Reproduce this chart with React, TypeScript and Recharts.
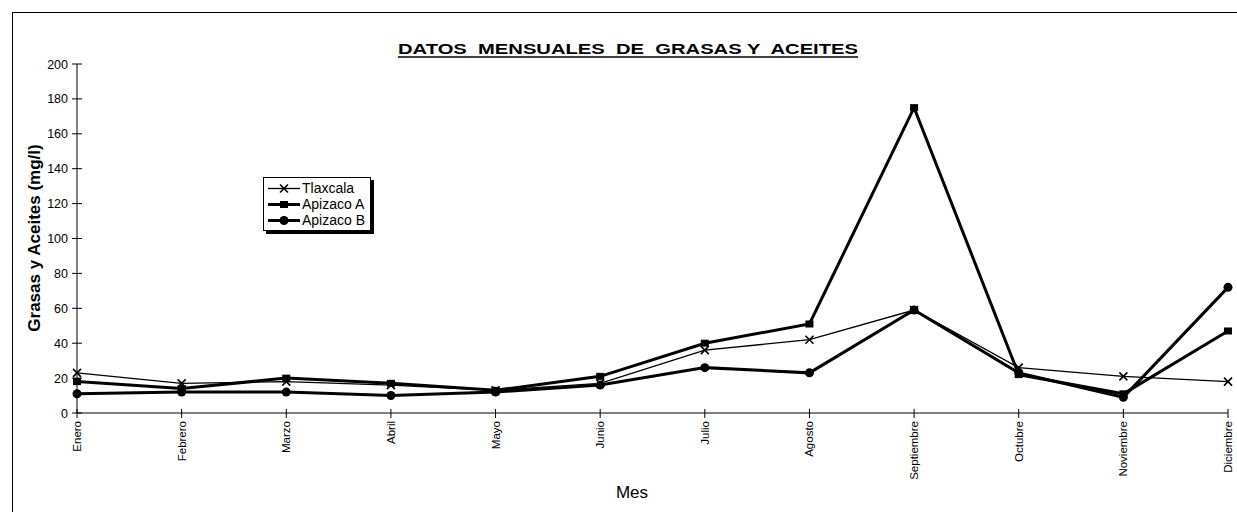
import React from 'react';
import { LineChart, Line, XAxis, YAxis, Legend } from 'recharts';

// Monthly fats & oils (mg/l) per site
const MONTHS = ['Enero', 'Febrero', 'Marzo', 'Abril', 'Mayo', 'Junio', 'Julio', 'Agosto', 'Septiembre', 'Octubre', 'Noviembre', 'Diciembre'];
const TLAXCALA = [23, 17, 18, 16, 13, 17, 36, 42, 59, 26, 21, 18];
const APIZACO_A = [18, 14, 20, 17, 13, 21, 40, 51, 175, 22, 11, 47];
const APIZACO_B = [11, 12, 12, 10, 12, 16, 26, 23, 59, 23, 9, 72];
const Y_TICKS = [0, 20, 40, 60, 80, 100, 120, 140, 160, 180, 200];

const data = MONTHS.map((mes, i) => ({
  mes,
  tlaxcala: TLAXCALA[i],
  apizacoA: APIZACO_A[i],
  apizacoB: APIZACO_B[i],
}));

const FONT = 'Arial, "Liberation Sans", Helvetica, sans-serif';

const CrossDot = (props: any) => {
  const { cx, cy, index } = props;
  if (cx == null || cy == null) return null;
  return (
    <g key={`x-${index}`}>
      <line x1={cx - 4} y1={cy - 4} x2={cx + 4} y2={cy + 4} stroke="#000" strokeWidth={1.6} />
      <line x1={cx - 4} y1={cy + 4} x2={cx + 4} y2={cy - 4} stroke="#000" strokeWidth={1.6} />
    </g>
  );
};

const SquareDot = (props: any) => {
  const { cx, cy, index } = props;
  if (cx == null || cy == null) return null;
  return <rect key={`s-${index}`} x={cx - 4} y={cy - 3.5} width={8} height={7} fill="#000" />;
};

const CircleDot = (props: any) => {
  const { cx, cy, index } = props;
  if (cx == null || cy == null) return null;
  return <circle key={`c-${index}`} cx={cx} cy={cy} r={4.5} fill="#000" />;
};

// Month labels, read bottom-to-top, with a tick mark crossing the axis
const MonthTick = (props: any) => {
  const { x, y, payload } = props;
  const ty = y + 8;
  return (
    <g>
      <line x1={x} y1={y - 4} x2={x} y2={y + 5} stroke="#000" strokeWidth={1} />
      <text
        x={x}
        y={ty}
        dy={4}
        transform={`rotate(-90 ${x} ${ty})`}
        textAnchor="end"
        fontSize={11.5}
        fontFamily={FONT}
        fill="#000"
      >
        {payload.value}
      </text>
    </g>
  );
};

// Value labels with a tick mark crossing the axis
const ValueTick = (props: any) => {
  const { x, y, payload } = props;
  return (
    <g>
      <line x1={x - 5} y1={y} x2={x + 5} y2={y} stroke="#000" strokeWidth={1} />
      <text x={x - 9} y={y} dy={4.5} textAnchor="end" fontSize={12.5} fontFamily={FONT} fill="#000">
        {payload.value}
      </text>
    </g>
  );
};

const SERIES = [
  { name: 'Tlaxcala', width: 1.3, marker: 'x' },
  { name: 'Apizaco A', width: 3, marker: 's' },
  { name: 'Apizaco B', width: 3, marker: 'c' },
];

const LegendBox = () => (
  <div
    style={{
      border: '1px solid #000',
      boxShadow: '3px 3px 0 #000',
      background: '#fff',
      padding: '2px 5px 2px 3px',
      fontFamily: FONT,
      fontSize: 14,
      color: '#000',
      lineHeight: '16px',
    }}
  >
    {SERIES.map((s) => (
      <div key={s.name} style={{ display: 'flex', alignItems: 'center', whiteSpace: 'nowrap' }}>
        <svg width={34} height={16} style={{ marginRight: 1 }}>
          <line x1={1} y1={8.5} x2={33} y2={8.5} stroke="#000" strokeWidth={s.width} />
          {s.marker === 'x' && (
            <g>
              <line x1={13} y1={4.5} x2={21} y2={12.5} stroke="#000" strokeWidth={1.6} />
              <line x1={13} y1={12.5} x2={21} y2={4.5} stroke="#000" strokeWidth={1.6} />
            </g>
          )}
          {s.marker === 's' && <rect x={13} y={5} width={8} height={7} fill="#000" />}
          {s.marker === 'c' && <circle cx={17} cy={8.5} r={4.5} fill="#000" />}
        </svg>
        <span>{s.name}</span>
      </div>
    ))}
  </div>
);

export default function App() {
  return (
    <div style={{ position: 'absolute', left: 0, top: 0, width: 1237, height: 512, background: '#fff', overflow: 'hidden' }}>
      <div
        style={{
          position: 'absolute',
          left: 12,
          top: 12,
          width: 1230,
          height: 520,
          borderTop: '1px solid #000',
          borderLeft: '1px solid #000',
        }}
      />
      <LineChart
        width={1237}
        height={512}
        data={data}
        margin={{ top: 64, right: 9, bottom: 0, left: 0 }}
        style={{ position: 'absolute', left: 0, top: 0 }}
      >
        <XAxis
          dataKey="mes"
          scale="point"
          padding={{ left: 0, right: 0 }}
          interval={0}
          tick={<MonthTick />}
          tickSize={0}
          tickMargin={0}
          tickLine={false}
          axisLine={{ stroke: '#000' }}
          stroke="#000"
          height={99}
        />
        <YAxis
          domain={[0, 200]}
          ticks={Y_TICKS}
          interval={0}
          width={77}
          tickSize={0}
          tickMargin={0}
          tick={<ValueTick />}
          tickLine={false}
          axisLine={{ stroke: '#000' }}
          stroke="#000"
        />
        <Legend
          layout="vertical"
          align="center"
          verticalAlign="middle"
          content={<LegendBox />}
          wrapperStyle={{ position: 'absolute', left: 263, top: 177, width: 'auto' }}
        />
        <Line
          name="Tlaxcala"
          dataKey="tlaxcala"
          stroke="#000"
          strokeWidth={1.3}
          dot={<CrossDot />}
          activeDot={false}
          isAnimationActive={false}
        />
        <Line
          name="Apizaco A"
          dataKey="apizacoA"
          stroke="#000"
          strokeWidth={3}
          dot={<SquareDot />}
          activeDot={false}
          isAnimationActive={false}
        />
        <Line
          name="Apizaco B"
          dataKey="apizacoB"
          stroke="#000"
          strokeWidth={3}
          dot={<CircleDot />}
          activeDot={false}
          isAnimationActive={false}
        />
      </LineChart>
      <svg
        width={1237}
        height={512}
        style={{ position: 'absolute', left: 0, top: 0, pointerEvents: 'none' }}
      >
        <text
          x={398}
          y={54}
          textLength={460}
          lengthAdjust="spacingAndGlyphs"
          fontSize={14.5}
          fontWeight="bold"
          fontFamily={FONT}
          fill="#000"
          style={{ whiteSpace: 'pre' }}
        >
          {'DATOS  MENSUALES  DE  GRASAS Y  ACEITES'}
        </text>
        <line x1={398} y1={57} x2={858} y2={57} stroke="#000" strokeWidth={1.5} />
        <text
          x={40}
          y={238}
          transform="rotate(-90 40 238)"
          textAnchor="middle"
          fontSize={17}
          fontWeight="bold"
          fontFamily={FONT}
          fill="#000"
        >
          Grasas y Aceites (mg/l)
        </text>
        <text x={632} y={498} textAnchor="middle" fontSize={17} fontFamily={FONT} fill="#000">
          Mes
        </text>
      </svg>
    </div>
  );
}
